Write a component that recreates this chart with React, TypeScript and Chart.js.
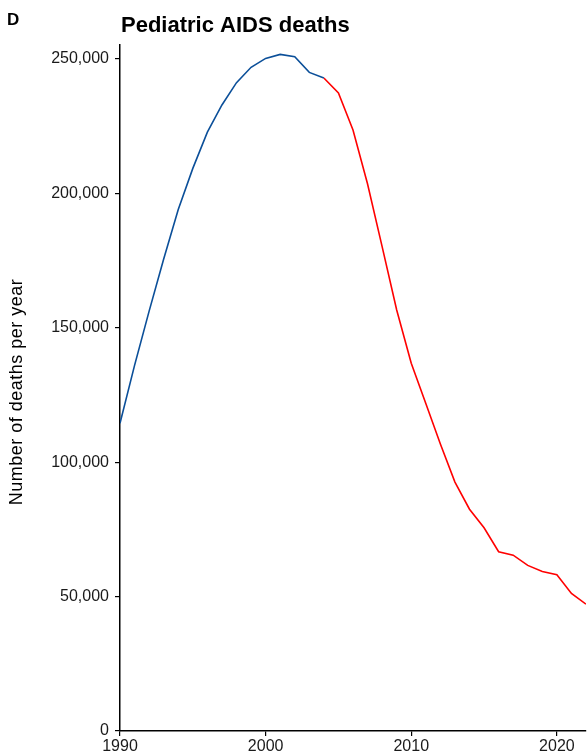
import React, { useEffect, useRef } from "react";
import { Chart, registerables } from "chart.js";

Chart.register(...registerables);

// Years 1990–2004 (blue) and 2004–2022 (red)
const blueYears = [1990, 1991, 1992, 1993, 1994, 1995, 1996, 1997, 1998, 1999, 2000, 2001, 2002, 2003, 2004];
const blueDeaths = [114500, 136000, 156200, 175600, 194000, 209300, 222800, 232900, 241200, 246900, 250200, 251700, 250800, 245000, 242900];
const redYears = [2004, 2005, 2006, 2007, 2008, 2009, 2010, 2011, 2012, 2013, 2014, 2015, 2016, 2017, 2018, 2019, 2020, 2021, 2022];
const redDeaths = [242900, 237400, 223600, 203500, 180200, 156600, 136800, 121800, 106800, 92600, 82500, 75600, 66700, 65400, 61600, 59300, 58100, 51200, 47200];

const xTicks = [1990, 2000, 2010, 2020];
const yTicks = [0, 50000, 100000, 150000, 200000, 250000];

const FONT = '"Liberation Sans", Arial, Helvetica, sans-serif';

export default function App() {
  const ref = useRef<HTMLCanvasElement | null>(null);

  useEffect(() => {
    const canvas = ref.current;
    if (!canvas) return;

    const headerPlugin = {
      id: "header",
      afterDraw(chart: any) {
        const ctx = chart.ctx;
        ctx.save();
        ctx.fillStyle = "#000";
        ctx.textBaseline = "alphabetic";
        ctx.textAlign = "left";
        ctx.font = `bold 17px ${FONT}`;
        ctx.fillText("D", 7, 24.5);
        ctx.font = `bold 22px ${FONT}`;
        ctx.fillText("Pediatric AIDS deaths", chart.chartArea.left + 1, 31.5);
        // y-axis title
        ctx.translate(21.5, 392);
        ctx.rotate(-Math.PI / 2);
        ctx.textAlign = "center";
        ctx.font = `18px ${FONT}`;
        try {
          (ctx as any).letterSpacing = "0.5px";
        } catch (e) {}
        ctx.fillText("Number of deaths per year", 0, 0);
        ctx.restore();
      },
    };

    const chart = new Chart(canvas, {
      type: "line",
      data: {
        datasets: [
          {
            label: "blue",
            data: blueYears.map((x, i) => ({ x, y: blueDeaths[i] })),
            borderColor: "#0b4f99",
            borderWidth: 1.6,
            pointRadius: 0,
            tension: 0,
            fill: false,
          },
          {
            label: "red",
            data: redYears.map((x, i) => ({ x, y: redDeaths[i] })),
            borderColor: "#ff0000",
            borderWidth: 1.6,
            pointRadius: 0,
            tension: 0,
            fill: false,
          },
        ],
      },
      options: {
        responsive: false,
        animation: false,
        devicePixelRatio: 1,
        layout: { padding: { top: 45, right: 2, left: 0, bottom: 0 } },
        plugins: {
          legend: { display: false },
          tooltip: { enabled: false },
          title: { display: false },
        },
        scales: {
          x: {
            type: "linear",
            min: 1990,
            max: 2022,
            afterBuildTicks: (s: any) => {
              s.ticks = xTicks.map((v) => ({ value: v }));
            },
            afterFit: (s: any) => {
              s.height = 25;
            },
            grid: {
              display: true,
              drawOnChartArea: false,
              drawTicks: true,
              tickLength: 5,
              color: "#000",
              lineWidth: 1.2,
            },
            border: { display: true, color: "#000", width: 1.5 },
            ticks: {
              color: "#1a1a1a",
              font: { family: FONT, size: 16 },
              padding: 1,
              maxRotation: 0,
              autoSkip: false,
              callback: (v: any) => String(v),
            },
          },
          y: {
            type: "linear",
            min: 0,
            max: 255200,
            afterBuildTicks: (s: any) => {
              s.ticks = yTicks.map((v) => ({ value: v }));
            },
            afterFit: (s: any) => {
              s.width = 120;
            },
            grid: {
              display: true,
              drawOnChartArea: false,
              drawTicks: true,
              tickLength: 5,
              color: "#000",
              lineWidth: 1.2,
            },
            border: { display: true, color: "#000", width: 1.5 },
            ticks: {
              color: "#1a1a1a",
              font: { family: FONT, size: 16 },
              padding: 6,
              autoSkip: false,
              callback: (v: any) => Number(v).toLocaleString("en-US"),
            },
          },
        },
      },
      plugins: [headerPlugin],
    });

    return () => chart.destroy();
  }, []);

  return (
    <div style={{ position: "fixed", left: 0, top: 0, width: 588, height: 756, background: "#fff" }}>
      <canvas ref={ref} width={588} height={756} style={{ display: "block", width: 588, height: 756 }} />
    </div>
  );
}
